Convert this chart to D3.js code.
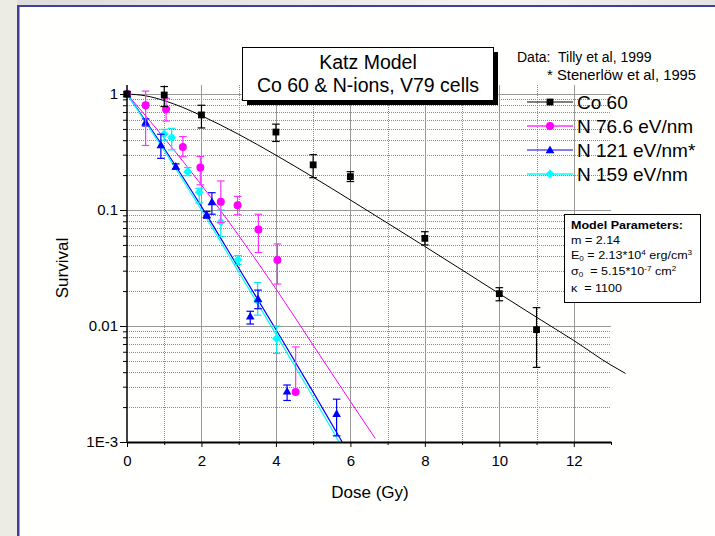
<!DOCTYPE html>
<html><head><meta charset="utf-8">
<script src="https://cdn.jsdelivr.net/npm/d3@7"></script>
<style>
html,body{margin:0;padding:0;background:#fff;}
svg{display:block;font-family:"Liberation Sans",Arial,sans-serif;}
</style></head>
<body><svg id="c" width="715" height="536"></svg>
<script>
// ---------- data ----------
const seriesNames = ["Co 60", "N 76.6 eV/nm", "N 121 eV/nm*", "N 159 eV/nm"];
const seriesColors = ["#000000", "#ff00ff", "#0000ff", "#00ffff"];
const xTicks = [0, 2, 4, 6, 8, 10, 12];
const xMinorTicks = [1, 3, 5, 7, 9, 11, 13];
const yTicks = [0.001, 0.01, 0.1, 1];
const yTickLabels = ["1E-3", "0.01", "0.1", "1"];

// points: [dose, survival, lowErr, highErr]
const co60Points = [
  [0, 1, null, null], [1, 0.98, 0.78, 1.16], [2, 0.66, 0.51, 0.80], [4, 0.47, 0.39, 0.55],
  [5, 0.245, 0.19, 0.30], [6, 0.194, 0.176, 0.214], [8, 0.057, 0.05, 0.065],
  [10, 0.019, 0.0165, 0.0214], [11, 0.0093, 0.0044, 0.0144]
];
const n766Points = [
  [0, 1, null, null], [0.5, 0.80, 0.36, 1.06], [1.05, 0.74, 0.585, 0.92], [1.5, 0.35, 0.288, 0.43],
  [1.97, 0.233, 0.165, 0.29], [2.52, 0.118, 0.078, 0.178], [2.97, 0.11, 0.091, 0.131],
  [3.53, 0.068, 0.043, 0.092], [4.04, 0.037, 0.023, 0.051], [4.53, 0.0027, 0.0027, 0.0066]
];
const n121Points = [
  [0, 1, 0.95, 1.05], [0.5, 0.57, 0.53, 0.61], [0.91, 0.364, 0.279, 0.45], [1.31, 0.237, 0.225, 0.25],
  [2.14, 0.091, 0.085, 0.097], [2.28, 0.117, 0.092, 0.141], [3.31, 0.0121, 0.0104, 0.0134],
  [3.52, 0.0171, 0.0141, 0.0204], [4.3, 0.00273, 0.00228, 0.0031], [5.63, 0.00175, 0.00113, 0.00234]
];
const n159Points = [
  [0, 1, 0.95, 1.05], [1.0, 0.452, 0.40, 0.496], [1.2, 0.421, 0.33, 0.506], [1.63, 0.214, 0.198, 0.232],
  [1.94, 0.142, 0.115, 0.154], [2.52, 0.079, 0.059, 0.1], [2.98, 0.0372, 0.034, 0.0405],
  [3.51, 0.0165, 0.0124, 0.0237], [4.02, 0.0078, 0.0058, 0.01]
];
// model curves: [dose, survival]
const co60Curve = [
  [0, 1], [0.5, 0.965], [1, 0.877], [1.5, 0.766], [2, 0.65], [3, 0.449], [4, 0.297], [5, 0.192],
  [6, 0.122], [7, 0.077], [8, 0.0485], [9, 0.0304], [10, 0.019], [11, 0.0119], [12, 0.0075],
  [13, 0.0046], [13.39, 0.0039]
];
const n766Curve = [[0, 1], [1, 0.417], [2, 0.164], [3, 0.0603], [4, 0.0209], [5, 0.00684], [6, 0.00224], [6.67, 0.00107]];
const n121Curve = [[0, 1], [1, 0.339], [2, 0.107], [3, 0.0316], [4, 0.00933], [5, 0.00269], [5.78, 0.001]];
const n159Curve = [[0, 1], [1, 0.324], [2, 0.1], [3, 0.0292], [4, 0.00851], [5, 0.00243], [5.7, 0.001]];

// ---------- drawing ----------
const svg = d3.select("#c");
const defs = svg.append("defs");
const g1 = defs.append("linearGradient").attr("id","topbg").attr("x1",0).attr("x2",1).attr("y1",0).attr("y2",0);
g1.append("stop").attr("offset","0%").attr("stop-color","#dcdcdc");
g1.append("stop").attr("offset","40%").attr("stop-color","#e8e8e8");
g1.append("stop").attr("offset","70%").attr("stop-color","#f4f4f4");
g1.append("stop").attr("offset","100%").attr("stop-color","#e4e4e4");

svg.append("rect").attr("width",715).attr("height",536).attr("fill","#fffffd");
svg.append("rect").attr("x",0).attr("y",0).attr("width",715).attr("height",5).attr("fill","url(#topbg)");
svg.append("rect").attr("x",0).attr("y",0).attr("width",17).attr("height",536).attr("fill","#ecebe4");
svg.append("rect").attr("x",17).attr("y",5).attr("width",698).attr("height",2).attr("fill","#3f3f9f");
svg.append("rect").attr("x",17).attr("y",5).attr("width",2.5).attr("height",531).attr("fill","#3f3f9f");

const x = d3.scaleLinear().domain([0, 13]).range([127, 611]);
const y = d3.scaleLog().domain([0.001, 1.196]).range([442, 85]);

// gridlines
const grid = svg.append("g");
const minorY = [];
[0.001, 0.01, 0.1].forEach(d => { for (let k = 2; k <= 9; k++) minorY.push(k * d); });
grid.selectAll(".hm").data(minorY).join("line")
  .attr("x1", x(0)).attr("x2", x(13)).attr("y1", d => Math.round(y(d)) + 0.5).attr("y2", d => Math.round(y(d)) + 0.5)
  .attr("stroke", "#8c8c8c").attr("stroke-width", 1).attr("stroke-dasharray", "1,1");
grid.selectAll(".vm").data(xMinorTicks.filter(d => d < 13)).join("line")
  .attr("x1", d => Math.round(x(d)) + 0.5).attr("x2", d => Math.round(x(d)) + 0.5).attr("y1", y(0.001)).attr("y2", 85)
  .attr("stroke", "#8c8c8c").attr("stroke-width", 1).attr("stroke-dasharray", "1,1");
grid.selectAll(".hM").data([0.01, 0.1, 1]).join("line")
  .attr("x1", x(0)).attr("x2", x(13)).attr("y1", d => Math.round(y(d)) + 0.5).attr("y2", d => Math.round(y(d)) + 0.5)
  .attr("stroke", "#999").attr("stroke-width", 1);
grid.selectAll(".vM").data(xTicks.filter(d => d > 0)).join("line")
  .attr("x1", d => Math.round(x(d)) + 0.5).attr("x2", d => Math.round(x(d)) + 0.5).attr("y1", y(0.001)).attr("y2", 85)
  .attr("stroke", "#999").attr("stroke-width", 1);

// curves
const line = d3.line().x(d => x(d[0])).y(d => y(d[1])).curve(d3.curveMonotoneX);
const curves = [co60Curve, n766Curve, n121Curve, n159Curve];
const curveWidths = [1, 1, 1.2, 1.2];
curves.forEach((c, i) => {
  svg.append("path").attr("d", line(c)).attr("fill", "none")
    .attr("stroke", seriesColors[i]).attr("stroke-width", curveWidths[i]);
});

// markers
function marker(sel, i, cx, cy) {
  const col = seriesColors[i];
  if (i === 0) sel.append("rect").attr("x", cx - 3.4).attr("y", cy - 3.4).attr("width", 6.8).attr("height", 6.8).attr("fill", col);
  else if (i === 1) sel.append("circle").attr("cx", cx).attr("cy", cy).attr("r", 4).attr("fill", col);
  else if (i === 2) sel.append("path").attr("d", `M${cx},${cy - 4.5}L${cx + 4.3},${cy + 3.2}L${cx - 4.3},${cy + 3.2}Z`).attr("fill", col);
  else sel.append("path").attr("d", `M${cx},${cy - 4.5}L${cx + 4.5},${cy}L${cx},${cy + 4.5}L${cx - 4.5},${cy}Z`).attr("fill", col);
}
const allPoints = [co60Points, n766Points, n121Points, n159Points];
const errColors = ["#000000", "#ff33ff", "#0000ff", "#00e8f0"];
[3, 2, 1, 0].forEach(i => {
  const g = svg.append("g");
  allPoints[i].forEach(p => {
    const cx = x(p[0]), cy = y(p[1]);
    if (p[2] !== null) {
      const yl = y(p[2]), yh = y(p[3]);
      g.append("line").attr("x1", cx).attr("x2", cx).attr("y1", yl).attr("y2", yh).attr("stroke", errColors[i]).attr("stroke-width", 1.2);
      g.append("line").attr("x1", cx - 3.8).attr("x2", cx + 3.8).attr("y1", yh).attr("y2", yh).attr("stroke", errColors[i]).attr("stroke-width", 1.2);
      if (p[2] !== p[1]) g.append("line").attr("x1", cx - 3.8).attr("x2", cx + 3.8).attr("y1", yl).attr("y2", yl).attr("stroke", errColors[i]).attr("stroke-width", 1.2);
    }
    marker(g, i, cx, cy);
  });
});

// axes
const axL = svg.append("g").attr("transform", `translate(${x(0)},0)`)
  .call(d3.axisLeft(y).tickValues(yTicks).tickFormat((d, i) => yTickLabels[i]).tickSize(7).tickSizeOuter(0).tickPadding(2));
const axLm = svg.append("g").attr("transform", `translate(${x(0)},0)`)
  .call(d3.axisLeft(y).tickValues(minorY).tickFormat("").tickSize(4).tickSizeOuter(0));
axLm.select(".domain").remove();
axL.select(".domain").attr("stroke-width", 1.5).attr("d", `M0,${y(0.001)}V85`);
const axB = svg.append("g").attr("transform", `translate(0,${y(0.001)})`)
  .call(d3.axisBottom(x).tickValues(xTicks).tickSize(5).tickSizeOuter(0).tickPadding(8));
const axBm = svg.append("g").attr("transform", `translate(0,${y(0.001)})`)
  .call(d3.axisBottom(x).tickValues(xMinorTicks).tickFormat("").tickSize(3).tickSizeOuter(0));
axBm.select(".domain").remove();
axB.select(".domain").attr("stroke-width", 2);
[axL, axB].forEach(a => a.selectAll("text").attr("font-size", 15).attr("fill", "#000").attr("font-family", '"Liberation Sans",Arial,sans-serif'));
svg.selectAll(".tick line").attr("stroke", "#000");

// axis titles
svg.append("text").attr("x", 370).attr("y", 498).attr("text-anchor", "middle").attr("font-size", 17).text("Dose (Gy)");
svg.append("text").attr("transform", "translate(68,268) rotate(-90)").attr("text-anchor", "middle").attr("font-size", 17).text("Survival");

// title box
svg.append("rect").attr("x", 247).attr("y", 52).attr("width", 251).attr("height", 53).attr("fill", "#000");
svg.append("rect").attr("x", 242.5).attr("y", 47.5).attr("width", 251).attr("height", 53).attr("fill", "#fff").attr("stroke", "#000").attr("stroke-width", 1);
svg.append("text").attr("x", 368).attr("y", 69).attr("text-anchor", "middle").attr("font-size", 19.5).text("Katz Model");
svg.append("text").attr("x", 368).attr("y", 92).attr("text-anchor", "middle").attr("font-size", 19.5).text("Co 60 & N-ions, V79 cells");

// data citation
svg.append("text").attr("x", 517).attr("y", 62).attr("font-size", 14).attr("xml:space", "preserve").text("Data:  Tilly et al, 1999");
svg.append("text").attr("x", 547).attr("y", 80).attr("font-size", 14).attr("transform", "translate(547,0) scale(1.06,1) translate(-547,0)").text("* Stenerlöw et al, 1995");

// legend
const legY = [102, 126, 150, 174];
const legLineW = [1, 2.2, 1.2, 1.6];
const legLineCol = ["#000", "#ff66ff", "#0000ff", "#00ffff"];
seriesNames.forEach((n, i) => {
  svg.append("line").attr("x1", 527).attr("x2", 573).attr("y1", legY[i]).attr("y2", legY[i]).attr("stroke", legLineCol[i]).attr("stroke-width", legLineW[i]);
  const g = svg.append("g");
  marker(g, i, 550, legY[i]);
  svg.append("text").attr("x", 577).attr("y", legY[i] + 7).attr("font-size", 19).text(n);
});

// model parameters box
svg.append("rect").attr("x", 564.5).attr("y", 214.5).attr("width", 136).attr("height", 88).attr("fill", "#fff").attr("stroke", "#000").attr("stroke-width", 1);
const mp = svg.append("g").attr("font-size", 11.5).attr("transform", "translate(571,0) scale(1.09,1) translate(-571,0)");
mp.append("text").attr("x", 571).attr("y", 229).attr("font-weight", "bold").text("Model Parameters:");
mp.append("text").attr("x", 571).attr("y", 244).text("m = 2.14");
const t2 = mp.append("text").attr("x", 571).attr("y", 259);
t2.append("tspan").text("E");
t2.append("tspan").attr("font-size", 7.5).attr("dy", 2).text("0");
t2.append("tspan").attr("dy", -2).text(" = 2.13*10");
t2.append("tspan").attr("font-size", 7.5).attr("dy", -4).text("4");
t2.append("tspan").attr("dy", 4).text(" erg/cm");
t2.append("tspan").attr("font-size", 7.5).attr("dy", -4).text("3");
const t3 = mp.append("text").attr("x", 571).attr("y", 275);
t3.append("tspan").text("σ");
t3.append("tspan").attr("font-size", 7.5).attr("dy", 2).text("0");
t3.append("tspan").attr("dy", -2).attr("xml:space", "preserve").text("  = 5.15*10");
t3.append("tspan").attr("font-size", 7.5).attr("dy", -4).text("-7");
t3.append("tspan").attr("dy", 4).text(" cm");
t3.append("tspan").attr("font-size", 7.5).attr("dy", -4).text("2");
mp.append("text").attr("x", 571).attr("y", 292).attr("xml:space", "preserve").text("κ  = 1100");
</script></body></html>
